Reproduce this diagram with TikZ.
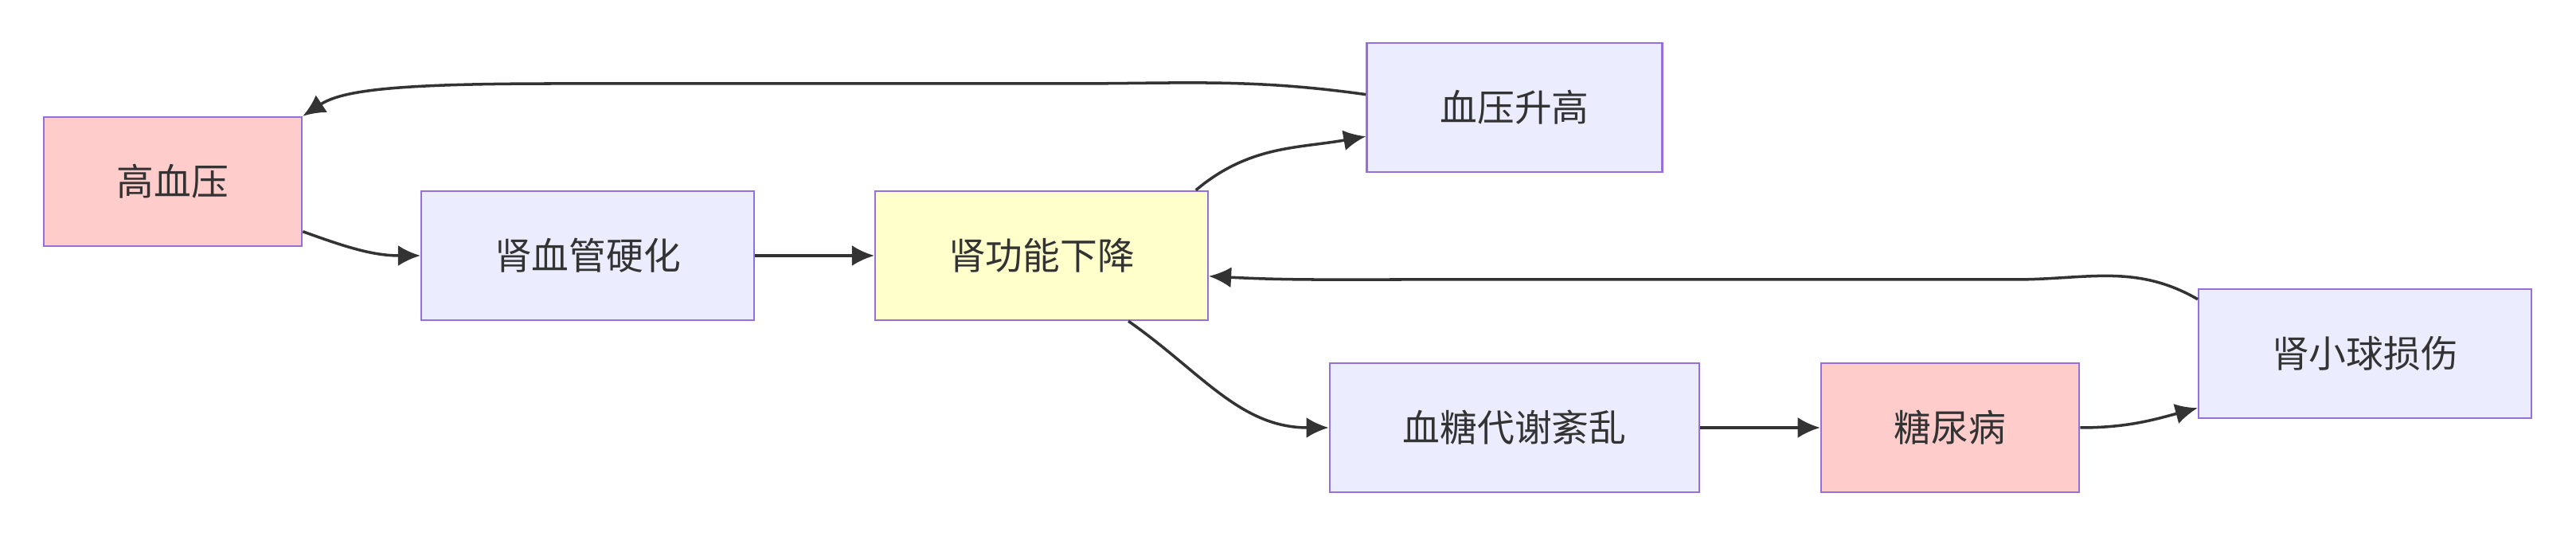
\documentclass[tikz,border=0pt]{standalone}
\usepackage{fontspec}
\newfontfamily\cjk{Noto Sans CJK SC}
\usetikzlibrary{arrows.meta}

\definecolor{mmborder}{HTML}{9370DB}
\definecolor{mmlavender}{HTML}{ECECFF}
\definecolor{mmpink}{HTML}{FFCCCC}
\definecolor{mmyellow}{HTML}{FFFFCC}
\definecolor{mmtext}{HTML}{333333}

\tikzstyle{factor}=[rectangle,draw=mmborder,line width=0.7pt,fill=mmlavender,minimum height=1.62cm,inner xsep=0.92cm,text=mmtext,font=\cjk\fontsize{13.3}{16}\selectfont]
\tikzstyle{illness}=[factor,fill=mmpink]
\tikzstyle{focus}=[factor,fill=mmyellow]

\begin{document}
\begin{tikzpicture}[>={Latex[length=2.8mm,width=2.6mm]},line width=1pt]
  \useasboundingbox (0,0) rectangle (32.35,6.73);

  \node (hbp) [illness] at (2.17,4.45) {高血压};
  \node (rvs) [factor] at (7.38,3.52) {肾血管硬化};
  \node (rfd) [focus] at (13.08,3.52) {肾功能下降};
  \node (bpr) [factor] at (19.02,5.38) {血压升高};
  \node (gmd) [factor] at (19.02,1.36) {血糖代谢紊乱};
  \node (dm) [illness] at (24.49,1.36) {糖尿病};
  \node (ggi) [factor] at (29.70,2.29) {肾小球损伤};

  \path[->,color=mmtext]
  (hbp.-21) edge[out=-20,in=180] (rvs.west)
  (rvs) edge (rfd)
  (rfd.23) edge[out=40,in=190] (bpr.191)
  (rfd.-37) edge[out=-35,in=180] (gmd.west)
  (gmd) edge (dm)
  (dm.east) edge[out=0,in=195] (ggi.198);

  % feedback loops
  \draw[->,mmtext] (bpr.175) to[out=172,in=0] (13.4,5.68) -- (7.0,5.68)
    .. controls (5.0,5.68) and (4.3,5.6) .. (hbp.north east);
  \draw[->,mmtext] (ggi.162) to[out=150,in=0] (25.3,3.22) -- (17.7,3.22)
    to[out=180,in=-3] (rfd.-7);
\end{tikzpicture}
\end{document}
